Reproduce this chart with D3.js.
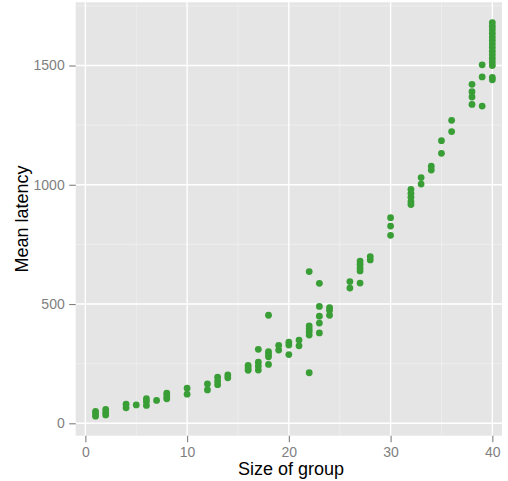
<!DOCTYPE html>
<html lang="en">

<head>
    <meta charset="UTF-8">
    <script src="https://d3js.org/d3.v7.min.js" charset="utf-8"></script>
    <title>Mean latency by group size</title>
    <style>
        body { margin: 0; background: #fff; }
        text { font-family: "Liberation Sans", Arial, sans-serif; }
    </style>
</head>

<body>
    <div id="chart"></div>

    <script>
        // data: one entry per point
        const groupSize = [
            1, 1, 1, 2, 2, 2, 4, 4, 5, 6, 6, 6, 7, 8, 8, 8,
            10, 10, 12, 12, 13, 13, 13, 14, 14,
            16, 16, 16, 17, 17, 17, 17, 18, 18, 18, 18, 18,
            19, 19, 20, 20, 20, 21, 21,
            22, 22, 22, 22, 22, 22, 23, 23, 23, 23, 23, 24, 24, 24,
            26, 26, 27, 27, 27, 27, 27, 28, 28,
            30, 30, 30, 32, 32, 32, 32, 32, 33, 33, 34, 34, 35, 35, 36, 36,
            38, 38, 38, 38, 39, 39, 39,
            40, 40, 40, 40, 40, 40, 40, 40, 40, 40, 40, 40, 40, 40, 40
        ];
        const meanLatency = [
            30, 40, 50, 35, 45, 58, 65, 80, 77, 75, 91, 103, 96, 103, 114, 126,
            122, 147, 140, 165, 162, 177, 193, 191, 203,
            222, 232, 243, 223, 240, 256, 310, 247, 279, 290, 300, 453,
            307, 327, 288, 328, 340, 325, 349,
            212, 370, 384, 395, 408, 636, 379, 420, 449, 490, 587, 453, 474, 485,
            567, 594, 588, 639, 652, 667, 680, 685, 699,
            788, 827, 862, 917, 929, 948, 964, 981, 1003, 1030, 1062, 1078, 1132, 1185, 1223, 1270,
            1337, 1368, 1390, 1421, 1330, 1452, 1503,
            1440, 1450, 1500, 1515, 1530, 1545, 1560, 1575, 1590, 1605, 1620, 1635, 1650, 1665, 1680
        ];
        const xTicks = [0, 10, 20, 30, 40];
        const xMinor = [5, 15, 25, 35];
        const yTicks = [0, 500, 1000, 1500];
        const yMinor = [250, 750, 1250, 1750];

        const width = 508, height = 481;
        const panelLeft = 75.7, panelRight = 502, panelTop = 2.3, panelBottom = 435.7;

        const x = d3.scaleLinear().domain([-0.95, 40.95]).range([panelLeft, panelRight]);
        const y = d3.scaleLinear().domain([-52, 1765]).range([panelBottom, panelTop]);

        const svg = d3.select('#chart').append("svg")
            .attr("width", width)
            .attr("height", height);

        svg.append("rect")
            .attr("x", panelLeft).attr("y", panelTop)
            .attr("width", panelRight - panelLeft).attr("height", panelBottom - panelTop)
            .attr("fill", "#e5e5e5");

        const grid = svg.append("g");
        grid.selectAll(".xminor").data(xMinor).enter().append("line")
            .attr("x1", d => x(d)).attr("x2", d => x(d))
            .attr("y1", panelTop).attr("y2", panelBottom)
            .attr("stroke", "#f2f2f2").attr("stroke-width", 0.7);
        grid.selectAll(".yminor").data(yMinor).enter().append("line")
            .attr("y1", d => y(d)).attr("y2", d => y(d))
            .attr("x1", panelLeft).attr("x2", panelRight)
            .attr("stroke", "#f2f2f2").attr("stroke-width", 0.7);
        grid.selectAll(".xmajor").data(xTicks).enter().append("line")
            .attr("x1", d => x(d)).attr("x2", d => x(d))
            .attr("y1", panelTop).attr("y2", panelBottom)
            .attr("stroke", "#fff").attr("stroke-width", 1.4);
        grid.selectAll(".ymajor").data(yTicks).enter().append("line")
            .attr("y1", d => y(d)).attr("y2", d => y(d))
            .attr("x1", panelLeft).attr("x2", panelRight)
            .attr("stroke", "#fff").attr("stroke-width", 1.4);

        // axes, ggplot style: grey ticks, no domain line
        const xAxis = svg.append("g")
            .attr("transform", `translate(0,${panelBottom})`)
            .call(d3.axisBottom(x).tickValues(xTicks).tickFormat(d3.format("d"))
                .tickSize(6.5).tickPadding(4.5));
        const yAxis = svg.append("g")
            .attr("transform", `translate(${panelLeft},0)`)
            .call(d3.axisLeft(y).tickValues(yTicks).tickFormat(d3.format("d"))
                .tickSize(6.5).tickPadding(4.5));

        [xAxis, yAxis].forEach(a => {
            a.select(".domain").remove();
            a.selectAll(".tick line").attr("stroke", "#7f7f7f").attr("stroke-width", 1.1);
            a.selectAll(".tick text")
                .attr("fill", "#7f7f7f")
                .style("font-size", "14px")
                .style("font-family", "'Liberation Sans', Arial, sans-serif");
        });

        svg.selectAll(".dot")
            .data(groupSize.map((g, i) => [g, meanLatency[i]]))
            .enter()
            .append("circle")
            .attr("class", "dot")
            .attr("cx", d => x(d[0]))
            .attr("cy", d => y(d[1]))
            .attr("r", 3.4)
            .attr("fill", "#3a9e36");

        svg.append("text")
            .attr("x", 291).attr("y", 475)
            .attr("text-anchor", "middle")
            .style("font-size", "18px")
            .text("Size of group");

        svg.append("text")
            .attr("transform", `translate(28,${(panelTop + panelBottom) / 2}) rotate(-90)`)
            .attr("text-anchor", "middle")
            .style("font-size", "18px")
            .text("Mean latency");
    </script>
</body>

</html>
